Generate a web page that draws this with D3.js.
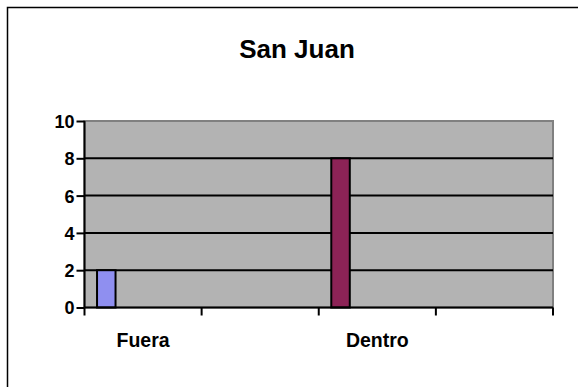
<!DOCTYPE html>
<html><head><meta charset="utf-8">
<script src="https://cdn.jsdelivr.net/npm/d3@7"></script>
<style>html,body{margin:0;padding:0;background:#fff;overflow:hidden}</style>
</head><body>
<svg id="c" width="578" height="387"></svg>
<script>
const title = "San Juan";
const categories = ["Fuera", "c2", "Dentro", "c4"];
const categoryLabels = ["Fuera", "", "Dentro", ""];
const values = [2, 0, 8, 0];
const barColors = ["#8f8ff0", "#8f8ff0", "#8c2356", "#8c2356"];
const yTicks = [0, 2, 4, 6, 8, 10];

const svg = d3.select("#c");
const font = "'Liberation Sans', Arial, sans-serif";
const pLeft = 84.5, pRight = 553, pTop = 121, pBottom = 307.5;

// outer chart frame
svg.append("rect").attr("x", 7.5).attr("y", 7.5).attr("width", 600).attr("height", 420)
  .attr("fill", "#fff").attr("stroke", "#000").attr("stroke-width", 1.5);

svg.append("text").attr("x", 297).attr("y", 58).attr("text-anchor", "middle")
  .attr("font-family", font).attr("font-weight", "bold").attr("font-size", 26).text(title);

const x = d3.scaleBand().domain(categories).range([pLeft, pRight]).padding(0);
const y = d3.scaleLinear().domain([0, 10]).range([pBottom, pTop]);

// plot area
svg.append("rect").attr("x", pLeft).attr("y", pTop).attr("width", pRight - pLeft).attr("height", pBottom - pTop)
  .attr("fill", "#b3b3b3").attr("stroke", "#808080").attr("stroke-width", 2);

// gridlines
svg.append("g").selectAll("line").data(yTicks.filter(d => d > 0 && d < 10)).join("line")
  .attr("x1", pLeft).attr("x2", pRight).attr("y1", d => y(d)).attr("y2", d => y(d))
  .attr("stroke", "#000").attr("stroke-width", 2);

// bars
const bw = x.bandwidth() * 0.158;
svg.append("g").selectAll("rect").data(values.map((v, i) => ({ v, c: categories[i], col: barColors[i] })).filter(d => d.v > 0))
  .join("rect")
  .attr("x", d => x(d.c) + x.bandwidth() * 0.107)
  .attr("y", d => y(d.v))
  .attr("width", bw)
  .attr("height", d => y(0) - y(d.v))
  .attr("fill", d => d.col).attr("stroke", "#000").attr("stroke-width", 2);

// y axis
const yAxis = svg.append("g").attr("transform", `translate(${pLeft},0)`)
  .call(d3.axisLeft(y).tickValues(yTicks).tickSize(8).tickPadding(2));
yAxis.select(".domain").attr("stroke", "#000").attr("stroke-width", 2).attr("d", `M0,${pTop}V${pBottom}`);
yAxis.selectAll(".tick line").attr("stroke", "#000").attr("stroke-width", 2);
yAxis.selectAll(".tick text").attr("font-family", font).attr("font-weight", "bold").attr("font-size", 18).attr("fill", "#000").attr("dy", "0.36em");

// x axis
const xAxis = svg.append("g").attr("transform", `translate(0,${pBottom})`);
xAxis.append("line").attr("x1", pLeft).attr("x2", pRight).attr("stroke", "#000").attr("stroke-width", 2);
const tickPos = categories.map(c => x(c)).concat([pRight]);
xAxis.selectAll("line.t").data(tickPos).join("line").attr("class", "t")
  .attr("x1", d => d).attr("x2", d => d).attr("y1", 0).attr("y2", 8)
  .attr("stroke", "#000").attr("stroke-width", 2);
xAxis.selectAll("text").data(categories).join("text")
  .attr("x", d => x(d) + x.bandwidth() / 2).attr("y", 39).attr("text-anchor", "middle")
  .attr("font-family", font).attr("font-weight", "bold").attr("font-size", 19.5)
  .text((d, i) => categoryLabels[i]);
</script>
</body></html>
